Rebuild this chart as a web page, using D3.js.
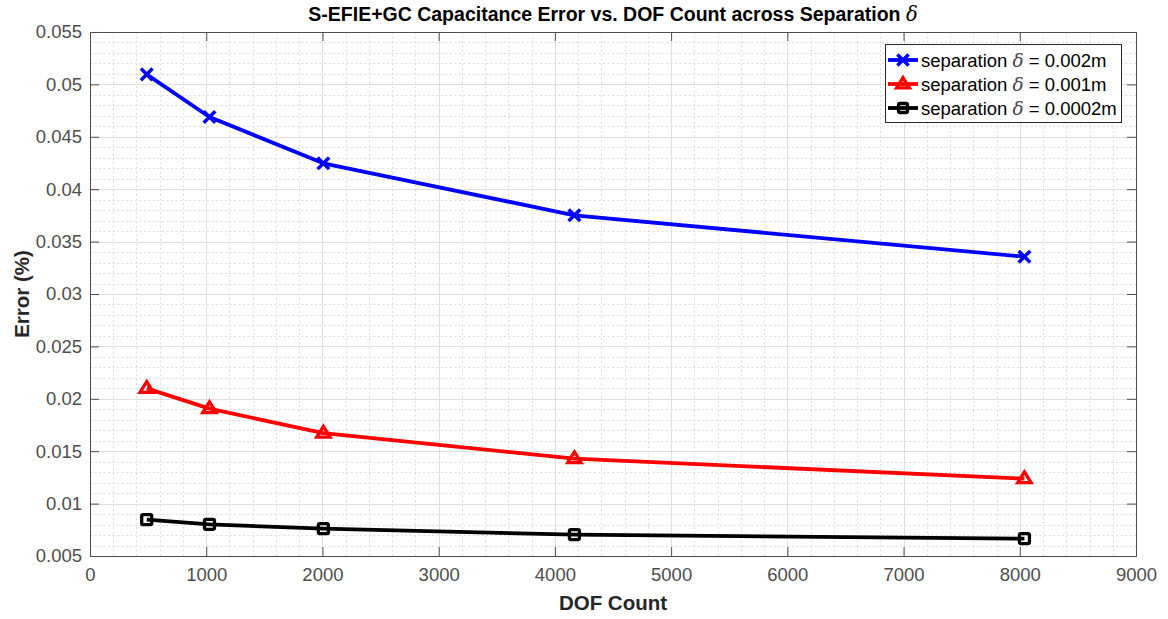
<!DOCTYPE html>
<html>
<head>
<meta charset="utf-8">
<script src="https://cdn.jsdelivr.net/npm/d3@7"></script>
<style>
  html, body { margin: 0; padding: 0; background: #fff; }
  svg { display: block; font-family: "Liberation Sans", Arial, sans-serif; }
</style>
</head>
<body>
<svg id="chart" width="1168" height="619"></svg>
<script>
// DOF counts for each mesh refinement
const dofCounts = [488, 1028, 2008, 4168, 8040];

// Capacitance error per separation
const errSep002 = [0.05096, 0.04689, 0.04247, 0.03751, 0.03356];
const errSep001 = [0.02100, 0.01906, 0.01673, 0.01429, 0.01238];
const errSep0002 = [0.00847, 0.00802, 0.00761, 0.00704, 0.00666];

const seriesNames = ["0.002m", "0.001m", "0.0002m"];
const seriesColors = ["#0000ff", "#ff0000", "#000000"];
const seriesMarkers = ["cross", "triangle", "square"];

const xTicks = [0, 1000, 2000, 3000, 4000, 5000, 6000, 7000, 8000, 9000];
const yTicks = [0.005, 0.01, 0.015, 0.02, 0.025, 0.03, 0.035, 0.04, 0.045, 0.05, 0.055];

const svg = d3.select("#chart");
const m = { left: 90, right: 1136, top: 32, bottom: 556 };

const x = d3.scaleLinear().domain([0, 9000]).range([m.left, m.right]);
const y = d3.scaleLinear().domain([0.005, 0.055]).range([m.bottom, m.top]);

// minor grid (dotted)
const xMinor = d3.range(0, 9000 + 1, 200).filter(v => v % 1000 !== 0);
const yMinor = d3.range(5, 55 + 0.1, 1).map(v => v / 1000).filter((v, i) => i % 5 !== 0);
const grid = svg.append("g");
grid.selectAll(".xm").data(xMinor).join("line")
  .attr("x1", d => Math.round(x(d)) + 0.5).attr("x2", d => Math.round(x(d)) + 0.5)
  .attr("y1", m.top).attr("y2", m.bottom)
  .attr("stroke", "#dcdcdc").attr("stroke-width", 1).attr("stroke-dasharray", "2,2.5");
grid.selectAll(".ym").data(yMinor).join("line")
  .attr("y1", d => Math.round(y(d)) + 0.5).attr("y2", d => Math.round(y(d)) + 0.5)
  .attr("x1", m.left).attr("x2", m.right)
  .attr("stroke", "#dcdcdc").attr("stroke-width", 1).attr("stroke-dasharray", "2,2.5");

// major grid (solid)
grid.selectAll(".xM").data(xTicks.slice(1, -1)).join("line")
  .attr("x1", d => Math.round(x(d)) + 0.5).attr("x2", d => Math.round(x(d)) + 0.5)
  .attr("y1", m.top).attr("y2", m.bottom)
  .attr("stroke", "#dfdfdf").attr("stroke-width", 1);
grid.selectAll(".yM").data(yTicks.slice(1, -1)).join("line")
  .attr("y1", d => Math.round(y(d)) + 0.5).attr("y2", d => Math.round(y(d)) + 0.5)
  .attr("x1", m.left).attr("x2", m.right)
  .attr("stroke", "#dfdfdf").attr("stroke-width", 1);

// axes with inward ticks on all four sides
const tickFmt = d => String(+d.toFixed(4));
const xAxis = svg.append("g").attr("transform", `translate(0,${m.bottom})`)
  .call(d3.axisBottom(x).tickValues(xTicks).tickSize(-9).tickPadding(19).tickFormat(d => d));
const yAxis = svg.append("g").attr("transform", `translate(${m.left},0)`)
  .call(d3.axisLeft(y).tickValues(yTicks).tickSize(-9).tickPadding(8).tickFormat(tickFmt));
const xTop = svg.append("g").attr("transform", `translate(0,${m.top})`)
  .call(d3.axisTop(x).tickValues(xTicks).tickSize(-9).tickFormat(""));
const yRight = svg.append("g").attr("transform", `translate(${m.right},0)`)
  .call(d3.axisRight(y).tickValues(yTicks).tickSize(-9).tickFormat(""));
[xAxis, yAxis, xTop, yRight].forEach(g => {
  g.select(".domain").attr("stroke", "#4d4d4d").attr("stroke-width", 1);
  g.selectAll(".tick line").attr("stroke", "#4d4d4d").attr("stroke-width", 1);
  g.selectAll(".tick text").attr("fill", "#4d4d4d").attr("font-size", "18.5px")
    .attr("font-family", "'Liberation Sans', Arial, sans-serif");
});
xAxis.selectAll(".tick text").attr("dy", "0.35em");

// series lines and markers
const allSeries = [errSep002, errSep001, errSep0002];
const line = d3.line().x((d, i) => x(dofCounts[i])).y(d => y(d));

function drawMarker(g, type, cx, cy, color, s) {
  if (type === "cross") {
    g.append("path")
      .attr("d", `M${cx - s},${cy - s}L${cx + s},${cy + s}M${cx - s},${cy + s}L${cx + s},${cy - s}`)
      .attr("stroke", color).attr("stroke-width", 3.5).attr("fill", "none");
  } else if (type === "triangle") {
    const r = s * 1.15;
    g.append("path")
      .attr("d", `M${cx},${cy - r}L${cx + r},${cy + r * 0.6}L${cx - r},${cy + r * 0.6}Z`)
      .attr("stroke", color).attr("stroke-width", 3.3).attr("fill", "none")
      .attr("stroke-linejoin", "miter");
  } else {
    g.append("rect")
      .attr("x", cx - s).attr("y", cy - s).attr("width", 2 * s).attr("height", 2 * s)
      .attr("rx", 1.5)
      .attr("stroke", color).attr("stroke-width", 3.3).attr("fill", "none");
  }
}

allSeries.forEach((vals, k) => {
  const g = svg.append("g");
  g.append("path").datum(vals).attr("d", line)
    .attr("fill", "none").attr("stroke", seriesColors[k]).attr("stroke-width", 3.8)
    .attr("stroke-linejoin", "round");
  vals.forEach((v, i) => {
    drawMarker(g, seriesMarkers[k], x(dofCounts[i]), y(v), seriesColors[k],
      seriesMarkers[k] === "square" ? 5 : 5.8);
  });
});

// title
const title = svg.append("text").attr("x", 613).attr("y", 21).attr("text-anchor", "middle")
  .attr("font-size", "19.5px").attr("font-weight", "bold").attr("fill", "#000");
title.append("tspan").text("S-EFIE+GC Capacitance Error vs. DOF Count across Separation ");
title.append("tspan").text("δ").attr("font-family", "'DejaVu Serif', 'Liberation Serif', serif")
  .attr("font-style", "italic").attr("font-weight", "normal");

// axis labels
svg.append("text").attr("x", 613).attr("y", 610).attr("text-anchor", "middle")
  .attr("font-size", "20.5px").attr("font-weight", "bold").attr("fill", "#262626")
  .text("DOF Count");
svg.append("text").attr("transform", `translate(29,${(m.top + m.bottom) / 2}) rotate(-90)`)
  .attr("text-anchor", "middle")
  .attr("font-size", "20.5px").attr("font-weight", "bold").attr("fill", "#262626")
  .text("Error (%)");

// legend
const lg = svg.append("g");
lg.append("rect").attr("x", 885.5).attr("y", 44.5).attr("width", 236).attr("height", 78)
  .attr("fill", "#fff").attr("stroke", "#262626").attr("stroke-width", 1);
seriesNames.forEach((name, k) => {
  const ry = 60 + k * 24;
  lg.append("line").attr("x1", 888).attr("x2", 918).attr("y1", ry).attr("y2", ry)
    .attr("stroke", seriesColors[k]).attr("stroke-width", 3.8);
  drawMarker(lg, seriesMarkers[k], 903, ry, seriesColors[k], seriesMarkers[k] === "square" ? 4.5 : 5.6);
  const t = lg.append("text").attr("x", 921).attr("y", ry + 6.5)
    .attr("font-size", "18.5px").attr("fill", "#000");
  t.append("tspan").text("separation ");
  t.append("tspan").text("δ").attr("font-family", "'DejaVu Serif', 'Liberation Serif', serif")
    .attr("font-style", "italic").attr("fill", "#444");
  t.append("tspan").text(" = " + name);
});
</script>
</body>
</html>
